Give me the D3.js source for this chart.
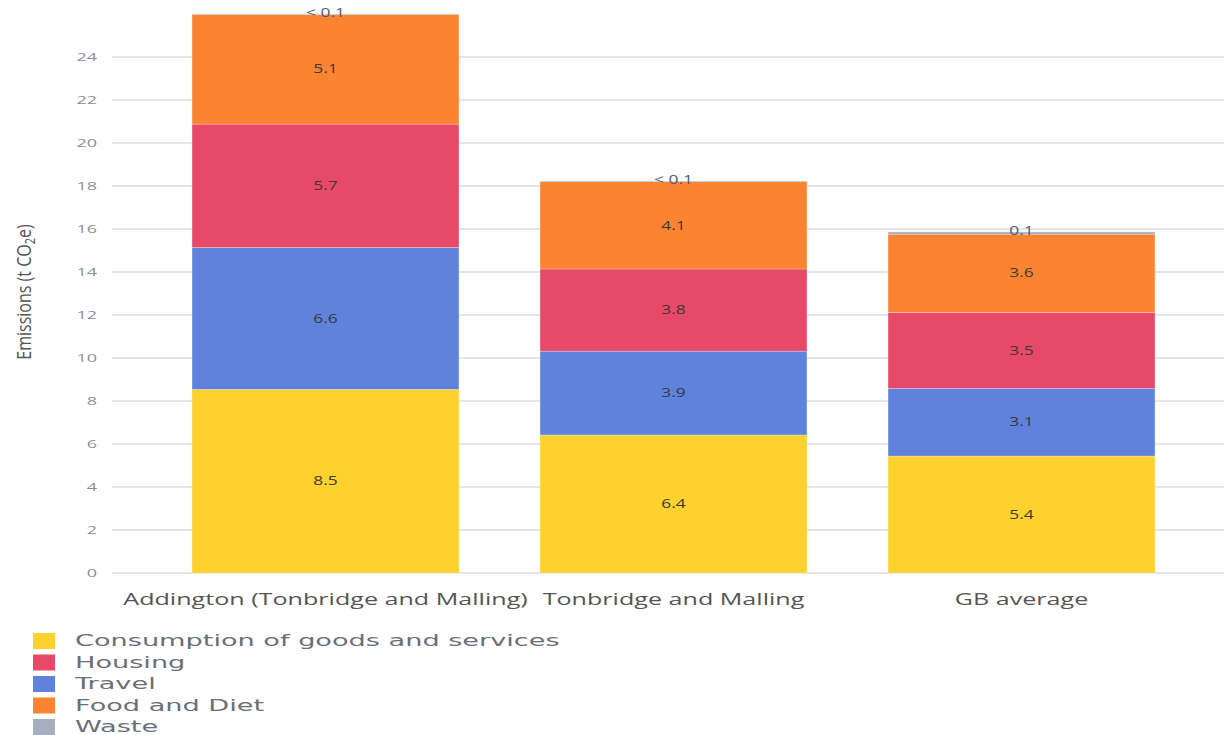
<!DOCTYPE html>
<meta charset="utf-8">
<style>
body { margin: 0; background: #fff; }
.grid line { stroke: #dcdcdc; stroke-width: 1.5; }
.tick-label { fill: #8a8f99; font-size: 10px; font-family: "Open Sans", sans-serif; }
.cat-label { fill: #555; font-size: 16px; font-family: "Open Sans", sans-serif; }
.val-label { fill: #3a3a3a; font-size: 12px; font-family: "Open Sans", sans-serif; }
.legend text { fill: #6a6f7a; font-size: 15px; font-family: "DejaVu Sans", sans-serif; }
</style>
<body>
<script src="https://d3js.org/d3.v7.min.js"></script>
<script>

// data
var categories = ["Addington (Tonbridge and Malling)", "Tonbridge and Malling", "GB average"];
var seriesNames = ["Consumption of goods and services", "Housing", "Travel", "Food and Diet", "Waste"];
var consumption = [8.54, 6.42, 5.44];
var housing = [5.74, 3.82, 3.54];
var travel = [6.6, 3.9, 3.14];
var food = [5.1, 4.06, 3.64];
var waste = [0.03, 0.03, 0.1];
var wasteLabels = ["< 0.1", "< 0.1", "0.1"];
var yTicks = [0, 2, 4, 6, 8, 10, 12, 14, 16, 18, 20, 22, 24];
var colors = ["#fdd22f", "#e84968", "#5f83dd", "#fb8432", "#a5afc0"];

// stacking order bottom -> top
var stackOrder = [0, 2, 1, 3, 4]; // consumption, travel, housing, food, waste
var seriesValues = [consumption, housing, travel, food, waste];

var width = 1224, height = 735;
var sx = 1.45; // the reference text is stretched horizontally

var svg = d3.select("body").append("svg")
    .attr("width", width)
    .attr("height", height);

var x = d3.scaleBand()
    .domain(categories)
    .range([112, 1235])
    .paddingInner(0.233)
    .paddingOuter(0.23);

var y = d3.scaleLinear()
    .domain([0, 26])
    .range([573, 14]);

// gridlines
svg.append("g").attr("class", "grid")
  .selectAll("line")
  .data(yTicks)
  .enter().append("line")
    .attr("x1", 112).attr("x2", width)
    .attr("y1", function(d) { return y(d); })
    .attr("y2", function(d) { return y(d); });

svg.append("g")
  .selectAll("text")
  .data(yTicks)
  .enter().append("text")
    .attr("class", "tick-label")
    .attr("text-anchor", "end")
    .attr("dy", "0.35em")
    .attr("transform", function(d) { return "translate(97," + y(d) + ") scale(1.8,1)"; })
    .text(function(d) { return d; });

// y axis title
svg.append("text")
    .attr("text-anchor", "middle")
    .attr("transform", "translate(31,292) scale(1.25,1) rotate(-90)")
    .style("font-family", "'Open Sans', sans-serif")
    .style("font-size", "16px")
    .style("fill", "#555")
    .html("Emissions (t CO<tspan dy='3' font-size='11px'>2</tspan><tspan dy='-3'>e)</tspan>");

// build stacked segments
var segs = [];
categories.forEach(function(c, i) {
  var base = 0;
  stackOrder.forEach(function(s) {
    var v = seriesValues[s][i];
    segs.push({cat: c, i: i, s: s, y0: base, y1: base + v, v: v});
    base += v;
  });
});

svg.append("g")
  .selectAll("rect")
  .data(segs)
  .enter().append("rect")
    .attr("x", function(d) { return x(d.cat); })
    .attr("width", x.bandwidth())
    .attr("y", function(d) { return y(d.y1); })
    .attr("height", function(d) { return y(d.y0) - y(d.y1); })
    .attr("fill", function(d) { return colors[d.s]; })
    .attr("stroke", "#fff")
    .attr("stroke-opacity", 0.5)
    .attr("stroke-width", 0.5);

var fmt = d3.format(".1f");
svg.append("g")
  .selectAll("text")
  .data(segs)
  .enter().append("text")
    .attr("class", "val-label")
    .attr("text-anchor", "middle")
    .attr("dy", "0.35em")
    .style("fill", function(d) { return d.s === 4 ? "#4d5a78" : "#3a3a3a"; })
    .attr("transform", function(d) {
      var cx = x(d.cat) + x.bandwidth() / 2;
      var cy = d.s === 4 ? y(d.y1) - 1 : (y(d.y0) + y(d.y1)) / 2;
      return "translate(" + cx + "," + cy + ") scale(" + sx + ",1)";
    })
    .text(function(d) { return d.s === 4 ? wasteLabels[d.i] : fmt(d.v); });

// category labels
svg.append("g")
  .selectAll("text")
  .data(categories)
  .enter().append("text")
    .attr("class", "cat-label")
    .attr("text-anchor", "middle")
    .attr("transform", function(d) { return "translate(" + (x(d) + x.bandwidth() / 2) + ",605) scale(1.57,1)"; })
    .text(function(d) { return d; });

// legend
var legend = svg.append("g").attr("class", "legend")
  .selectAll("g")
  .data(seriesNames)
  .enter().append("g")
    .attr("transform", function(d, i) { return "translate(33," + (633 + i * 21.5) + ")"; });

legend.append("rect")
    .attr("width", 22).attr("height", 16)
    .attr("fill", function(d, i) { return colors[i]; });

legend.append("text")
    .attr("transform", "translate(42,13) scale(1.81,1)")
    .text(function(d) { return d; });

</script>
</body>
